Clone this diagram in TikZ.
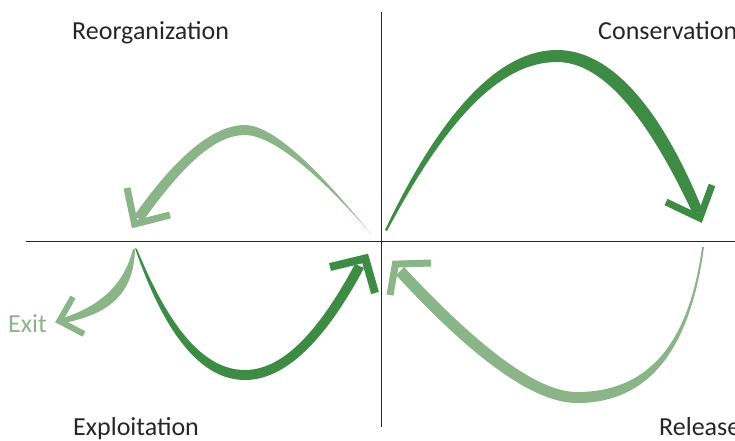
\documentclass[tikz,border=0pt]{standalone}
\usepackage{fontspec}
\setmainfont{Carlito}
\usepackage{xcolor}
\definecolor{cycledark}{RGB}{61,139,69}
\definecolor{cyclelight}{RGB}{139,181,136}
\definecolor{axisgray}{RGB}{38,38,38}

\begin{document}
\begin{tikzpicture}[
    x=1pt,y=-1pt,
    font=\fontsize{26}{31}\selectfont,
    axis/.style={draw=axisgray,line width=1pt},
    phase/.style={text=axisgray,anchor=base west,inner sep=0pt},
    darkbody/.style={fill=cycledark},
    lightbody/.style={fill=cyclelight},
    darkhead/.style={draw=cycledark,line width=7pt,line join=miter,line cap=butt},
    lighthead/.style={draw=cyclelight,line width=7pt,line join=miter,line cap=butt}
]
\useasboundingbox (0,0) rectangle (735,440);

% Axes.
\coordinate (W) at (26,241);
\coordinate (E) at (735,241);
\coordinate (N) at (381,12);
\coordinate (S) at (381,427);
\draw[axis] (W) -- (E);
\draw[axis] (N) -- (S);

% Phase names, one per quadrant.
\node[phase] (reorg) at (72,39) {Reorganization};
\node[phase] (conserv) at (598,39) {Conservation};
\node[phase] (exploit) at (73,435) {Exploitation};
\node[phase] (release) at (659,435) {Release};
\node[phase,text=cyclelight] (exit) at (8,332) {Exit};

% Arrow heads: tip and the ends of both arms.
\coordinate (consT) at (699.8,218.1);
\coordinate (consA) at (712,185);
\coordinate (consB) at (666,202);
\coordinate (reorgT) at (134.6,224);
\coordinate (reorgA) at (127,188);
\coordinate (reorgB) at (170,215);
\coordinate (exitT) at (59.3,321);
\coordinate (exitA) at (73,297);
\coordinate (exitB) at (84,334);
\coordinate (exploitT) at (365.2,258.5);
\coordinate (exploitA) at (330,267);
\coordinate (exploitB) at (375,293);
\coordinate (releaseT) at (395.4,264.1);
\coordinate (releaseA) at (431,263);
\coordinate (releaseB) at (390,295);

% Tapered bodies, thin at the start and wide at the head.
\fill[darkbody] (385,230) .. controls (442,110) and (500,50) .. (557,50)
    .. controls (612,50) and (662,110) .. (703,211)
    -- (693,214) .. controls (650,122) and (605,62) .. (557,62)
    .. controls (500,62) and (446,120) .. (387,231) -- cycle;
\fill[lightbody] (370,233) .. controls (312,161) and (270,125) .. (245,125)
    .. controls (214,125) and (177,155) .. (134,216)
    -- (143,221) .. controls (183,165) and (215,135) .. (245,135)
    .. controls (270,135) and (315,169) .. (371,234) -- cycle;
\fill[lightbody] (135,249) .. controls (134,295) and (108,314) .. (64,323)
    -- (63,318) .. controls (100,306) and (124,285) .. (133,249) -- cycle;
\fill[darkbody] (135,248) .. controls (165,336) and (202,380) .. (245,380)
    .. controls (284,380) and (324,343) .. (364,268)
    -- (355,264) .. controls (317,335) and (281,370) .. (245,370)
    .. controls (205,370) and (170,330) .. (137,249) -- cycle;
\fill[lightbody] (704,247) .. controls (690,351) and (648,403) .. (577,403)
    .. controls (535,403) and (475,361) .. (396,275)
    -- (404,267) .. controls (482,351) and (539,392) .. (577,392)
    .. controls (648,392) and (689,344) .. (702,247) -- cycle;

% Open heads.
\draw[darkhead] (consA) -- (consT) -- (consB);
\draw[lighthead] (reorgA) -- (reorgT) -- (reorgB);
\draw[lighthead,line width=6pt] (exitA) -- (exitT) -- (exitB);
\draw[darkhead,line width=8pt] (exploitA) -- (exploitT) -- (exploitB);
\draw[lighthead] (releaseA) -- (releaseT) -- (releaseB);
\end{tikzpicture}
\end{document}
